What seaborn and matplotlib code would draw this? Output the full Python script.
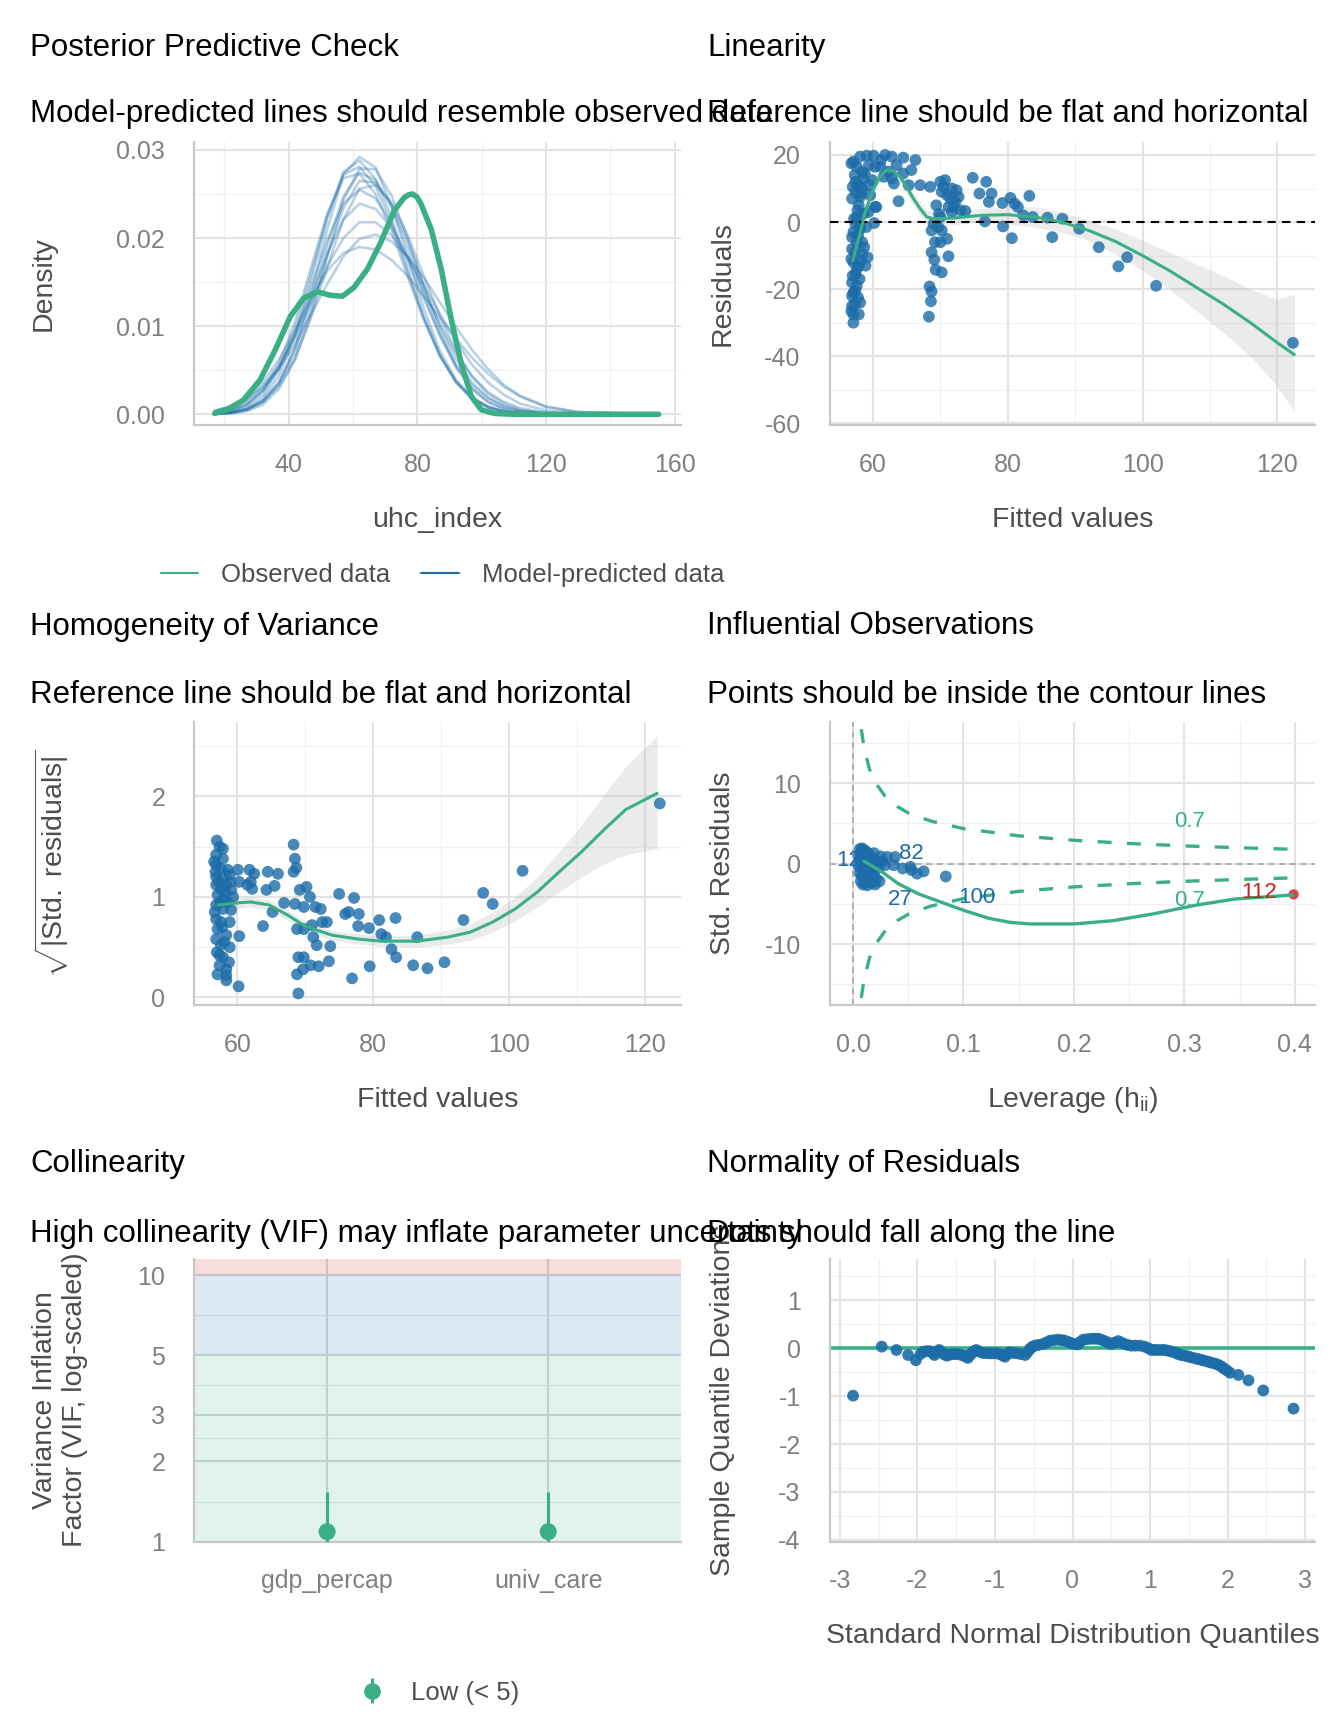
import numpy as np
import pandas as pd
import matplotlib
matplotlib.use("Agg")
import matplotlib.pyplot as plt
import seaborn as sns
from matplotlib.lines import Line2D
from matplotlib.ticker import NullFormatter

# ---------------- data ----------------
dens_x = [17, 22, 27, 32, 37, 42, 47, 52, 57, 62, 67, 72, 77, 82, 87, 92, 97, 102, 107, 112, 120, 130, 155]
pred_a = [.00005, .00019, .0006, .0016, .0037, .0075, .0129, .0192, .0247, .0274, .0266, .0235, .0188, .0136, .0089, .0053, .0029, .0014, .0006, .00025, .00004, 0, 0]
pred_b = [.00005, .0002, .00067, .0018, .0044, .0088, .0152, .0222, .0275, .0288, .0267, .0223, .0166, .0111, .0067, .0036, .0017, .00075, .0003, .0001, 0, 0, 0]
pred_c = [.00005, .00018, .00055, .0014, .0032, .0063, .011, .0167, .0221, .0256, .026, .024, .0203, .0157, .0111, .0072, .0043, .0023, .0012, .0005, .00012, .00002, 0]
pred_d = [.0002, .00056, .0013, .0028, .0053, .009, .0135, .0182, .0221, .0239, .0233, .0212, .0179, .014, .0103, .0069, .0043, .0025, .0014, .0007, .0002, .00003, 0]
pred_e = [.00003, .00012, .00045, .0014, .0035, .0076, .0137, .021, .0272, .0292, .028, .0236, .0178, .012, .0072, .0039, .0019, .0008, .0003, .0001, 0, 0, 0]
pred_f = [.0004, .0009, .0017, .0031, .0052, .008, .0114, .0148, .0179, .0199, .0204, .0196, .0179, .0155, .0127, .0099, .0073, .0051, .0033, .0021, .0009, .00026, 0]
pred_g = [.00012, .0004, .0011, .0027, .0058, .0105, .0167, .0228, .0268, .0273, .025, .0208, .0156, .0107, .0066, .0037, .0019, .0009, .00036, .00014, 0, 0, 0]
pred_h = [.00034, .0008, .0016, .0032, .0055, .0088, .0127, .0168, .02, .0218, .0218, .0203, .0178, .0147, .0114, .0083, .0056, .0036, .0022, .0012, .00044, .0001, 0]
pred_i = [.00015, .00044, .0011, .0026, .0052, .0092, .0144, .0198, .0239, .0255, .0245, .0216, .0175, .0131, .009, .0056, .0033, .0018, .0009, .0004, .00009, 0, 0]
pred_j = [.00003, .0001, .00037, .0011, .0029, .0062, .0114, .018, .0243, .0279, .0278, .0248, .0199, .0144, .0095, .0055, .0029, .0014, .0006, .00023, .00004, 0, 0]
pred_k = [.0004, .0009, .0019, .0036, .0062, .0096, .0132, .0163, .0183, .019, .0187, .0175, .0157, .0134, .011, .0086, .0064, .0046, .0031, .002, .0008, .00026, 0]
pred_l = [.00005, .00018, .00058, .0015, .0035, .0069, .012, .018, .0234, .0265, .0263, .0238, .0196, .0147, .01, .0063, .0036, .0019, .0009, .0004, .00008, .00001, 0]
pred_m = [.0001, .0003, .0009, .0022, .0051, .0097, .016, .0225, .0272, .0281, .0259, .0216, .0161, .0109, .0067, .0037, .0018, .0008, .0003, .0001, 0, 0, 0]
pred_curves = [pred_a, pred_b, pred_c, pred_d, pred_e, pred_f, pred_g, pred_h, pred_i, pred_j, pred_k, pred_l, pred_m]

obs_x = [17, 20.7, 25.9, 31.1, 35.8, 40.5, 44.7, 48.9, 53, 56.7, 60.3, 64.5, 68.6, 72.8, 75.9, 77.2, 78.4, 79.8, 81.1, 84.3, 87.4, 90.5, 93.6, 96.8, 99.9, 104, 110, 155]
obs_y = [0.0001, 0.0005, 0.0016, 0.0039, 0.0073, 0.0111, 0.0132, 0.0139, 0.0135, 0.0134, 0.0144, 0.0165, 0.0195, 0.0231, 0.0246, 0.0249, 0.025, 0.0247, 0.0239, 0.021, 0.0165, 0.0108, 0.0058, 0.002, 0.0005, 0.0001, 0.0, 0.0]

lin_fitted = [57.1, 58.1, 59.1, 60.1, 57.6, 58.4, 59.4, 60.3, 57.4, 57.9, 58.6, 57.4, 58.1, 56.9, 57.9, 58.4, 59.4, 60.3, 57.6, 57.4,
              60.2, 57.1, 58.1, 57.6, 58.4, 56.9, 59.2, 58.4, 57.1, 57.9, 58.9, 57.4, 56.9, 57.6, 57.1, 56.9, 58.1, 56.9, 57.1, 57.9,
              57.1, 56.8, 57.3, 58.8, 57.0, 58.3, 57.7, 58.6, 57.2, 58.0, 56.9, 57.8, 58.7, 57.3, 56.8, 58.2, 57.6, 57.0, 58.0, 57.4,
              57.8, 56.8, 57.3, 59.0, 59.6, 59.9, 59.3,
              61.8, 62.8, 64.5, 66.3, 65.7, 64.5, 62.8, 63.1, 65.3, 63.8, 60.5, 61.6, 61.1, 62.3, 61.2, 63.5,
              67.0, 68.5, 70.0, 70.7, 71.7, 72.4, 70.2, 71.5, 72.2, 72.7, 69.4, 71.2, 71.7, 73.0, 73.7, 70.0, 69.0, 69.7, 70.2, 68.7,
              69.2, 70.0, 71.0, 68.7, 71.2, 69.1, 69.3, 70.2, 68.4, 68.7, 68.6, 68.3, 71.0, 70.5, 72.0, 69.8,
              74.8, 76.8, 75.8, 77.6, 77.2, 79.2, 80.4, 81.0, 81.5, 83.2, 79.3, 80.6, 76.6, 82.3, 83.7, 85.9, 86.6, 88.1, 90.6, 93.5,
              96.4, 97.7, 102.0, 122.3]
lin_resid = [18, 19.5, 19.8, 19.8, 16.5, 15, 17, 16.5, 12, 11, 13, 9, 7.5, 7, 5, 10, 11, 4.5, 1.5, -0.5,
             -0.3, -3, -2, -6, -6, -8, -10.5, -9.5, -12, -13, -13, -15.5, -18, -19, -21, -22, -24, -25, -27.5, -27.5,
             -30, 17.5, 14, 14.5, 10.5, 8.5, 3.5, 2.5, 1, -1, -4.5, -4, -7.5, -9, -11, -11.5, -14, -16, -17, -20.5,
             -22.5, -26.5, -24.5, -1.5, 8, 12.5, 3,
             20, 19.5, 19.2, 18.5, 15.5, 14.5, 13, 11.5, 11, 6.2, 4.5, 13.5, 16.5, 15, 18.5, 17,
             11, 10.5, 12, 12.5, 10, 9.5, 9, 7, 6, 7.5, 5, 4.5, 3, 3.5, 3.3, 1.5, -0.5, -1.5, -2.5, -2.5,
             -6, -6, -5, -9, -10.2, -11.2, -14.2, -15, -19.2, -20.7, -23.6, -28.2, 8, 10.5, 4.5, 2.5,
             13.2, 12, 8.5, 8.5, 6, 5.7, 7.2, 5.5, 4.5, 7.8, -1.3, -4.8, 0.2, 2, 1.5, 1.3, -4.5, 1, -2, -7.5,
             -13.2, -10.5, -19, -36]
lin_smooth_x = [57, 58, 59, 60, 61, 62, 63, 64, 65, 66, 67, 68, 69, 72, 76, 80, 84, 88, 92, 96, 100, 104, 108, 112, 116, 120, 122.5]
lin_smooth_y = [-11.5, -4, 4, 9.5, 13.5, 15.5, 15.3, 13.5, 10.5, 7, 4, 1.5, 1, 1.2, 2, 2.2, 1.5, 0, -2.5, -5.8, -10, -14.5, -19.5, -24.5, -30, -36, -39.5]
lin_smooth_lo = [-15, -7, 1.5, 7.5, 11.5, 13.5, 13, 11.2, 8.3, 5, 2, -0.5, -1, -0.8, 0, -0.5, -1.5, -3, -5.5, -9.5, -14.5, -20, -26.5, -33, -40, -49, -56.5]
lin_smooth_hi = [-8, -1, 6.5, 11.5, 15.5, 17.5, 17.6, 15.8, 12.7, 9, 6, 3.5, 3, 3.2, 4, 4.9, 4.5, 3, 0.5, -2.1, -5.5, -9, -12.5, -16, -20, -23, -21.5]

hom_fitted = [57.0, 57.4, 57.9, 56.9, 57.9, 56.9, 57.6, 58.6, 56.9, 57.9, 58.9, 56.9, 57.6, 58.4, 59.1, 57.1, 58.1, 59.4, 56.9, 57.9,
              59.1, 56.9, 57.6, 58.9, 57.1, 58.4, 56.9, 57.6, 58.9, 57.4, 57.9, 57.4, 58.4, 57.1, 58.4, 58.4, 60.2, 60.3, 60.1,
              56.6, 57.3, 58.2, 56.7, 57.8, 58.6, 57.0, 58.1, 56.8, 59.0, 57.5, 58.8,
              61.8, 62.5, 62.0, 61.5, 62.2, 60.3, 63.8, 64.5, 66.0, 65.5, 64.3, 65.2, 66.9, 68.3, 68.5, 68.7, 68.3, 70.2, 69.2,
              70.7, 68.5, 69.8, 71.5, 72.3, 68.8, 69.8, 71.0, 72.5, 73.2, 71.2, 71.7, 69.0, 69.8, 68.8, 69.7, 70.8, 72.0, 73.5,
              73.7, 69.0, 75.0, 77.2, 75.9, 76.4, 77.9, 77.8, 79.4, 80.9, 81.2, 81.9, 83.3, 82.7, 83.4, 79.5, 76.9,
              85.9, 86.5, 88.0, 90.5, 93.3, 96.2, 97.6, 102.0, 122.2]
hom_sqrt_std = [1.56, 1.5, 1.48, 1.42, 1.38, 1.32, 1.28, 1.27, 1.2, 1.18, 1.22, 1.12, 1.08, 1.12, 1.07, 1.02, 0.98, 1.0, 0.92, 0.88,
                0.87, 0.78, 0.75, 0.75, 0.68, 0.62, 0.58, 0.52, 0.5, 0.42, 0.4, 0.32, 0.28, 0.23, 0.22, 0.17, 0.11, 0.61, 1.27,
                1.35, 1.15, 1.05, 0.85, 0.7, 0.95, 0.45, 0.55, 1.25, 1.15, 0.95, 0.35,
                1.27, 1.23, 1.15, 1.12, 1.08, 1.15, 0.71, 1.25, 1.23, 1.11, 1.07, 0.85, 0.94, 1.52, 1.38, 1.29, 1.25, 1.1, 1.07,
                1.0, 0.93, 0.9, 0.9, 0.88, 0.68, 0.68, 0.72, 0.75, 0.75, 0.6, 0.52, 0.4, 0.4, 0.23, 0.28, 0.32, 0.31, 0.36,
                0.51, 0.04, 1.03, 0.99, 0.83, 0.85, 0.83, 0.71, 0.69, 0.77, 0.63, 0.6, 0.79, 0.48, 0.4, 0.31, 0.19,
                0.32, 0.6, 0.29, 0.35, 0.77, 1.04, 0.93, 1.26, 1.93]
hom_smooth_x = [57.2, 60, 62, 64.7, 67.4, 70, 73.9, 77.9, 81.2, 86.4, 91, 94.3, 97.6, 100.9, 104.2, 107.4, 110.7, 114, 117.2, 121.8]
hom_smooth_y = [0.92, 0.94, 0.95, 0.92, 0.82, 0.71, 0.62, 0.58, 0.56, 0.56, 0.6, 0.65, 0.75, 0.88, 1.05, 1.25, 1.45, 1.67, 1.87, 2.03]
hom_smooth_lo = [0.86, 0.89, 0.9, 0.87, 0.77, 0.66, 0.57, 0.53, 0.51, 0.5, 0.53, 0.57, 0.65, 0.76, 0.9, 1.05, 1.2, 1.33, 1.42, 1.48]
hom_smooth_hi = [0.98, 0.99, 1.0, 0.97, 0.87, 0.76, 0.67, 0.63, 0.61, 0.62, 0.67, 0.73, 0.85, 1.0, 1.2, 1.45, 1.72, 2.02, 2.3, 2.6]

inf_leverage = [0.006, 0.008, 0.010, 0.012, 0.007, 0.009, 0.011, 0.014, 0.016, 0.018, 0.006, 0.008, 0.010, 0.013, 0.015, 0.017, 0.020, 0.022,
                0.007, 0.009, 0.011, 0.013, 0.015, 0.018, 0.006, 0.008, 0.010, 0.012, 0.014, 0.016, 0.019, 0.021, 0.007, 0.009, 0.011,
                0.013, 0.017, 0.020, 0.024, 0.023, 0.025, 0.019, 0.005, 0.005, 0.012, 0.009, 0.016, 0.011, 0.027, 0.029,
                0.031, 0.038, 0.037, 0.045, 0.052, 0.053, 0.058, 0.064, 0.084]
inf_std_resid = [1.8, 1.9, 1.7, 1.5, 1.3, 1.1, 0.9, 1.2, 0.9, 0.6, 0.5, 0.2, 0.0, 0.3, -0.1, 0.2, 0.4, 0.0,
                 -0.4, -0.7, -0.9, -0.6, -1.1, -0.8, -1.2, -1.5, -1.8, -1.4, -2.0, -1.7, -1.3, -1.9, -2.2, -2.6, -2.4,
                 -2.7, -2.4, -2.6, -2.2, -0.5, 0.9, 1.3, 0.9, -0.3, 0.6, 1.6, -0.4, -1.2, 0.3, -0.2,
                 0.83, 0.83, -0.2, -0.6, -0.4, -0.8, -1.25, -0.96, -1.6]
inf_out_leverage = [0.399]
inf_out_resid = [-3.83]
inf_smooth_x = [0.01, 0.027, 0.041, 0.059, 0.08, 0.1, 0.123, 0.142, 0.16, 0.2, 0.235, 0.272, 0.309, 0.346, 0.398]
inf_smooth_y = [0.3, -1.1, -2.5, -3.75, -4.8, -5.8, -6.8, -7.3, -7.5, -7.5, -7.1, -6.25, -5.2, -4.4, -3.9]
cook_h = [0.0075, 0.01, 0.015, 0.02, 0.03, 0.04, 0.05, 0.07, 0.1, 0.15, 0.2, 0.25, 0.3, 0.35, 0.4]
cook_upper = [16.7, 14.4, 11.7, 10.1, 8.2, 7.1, 6.3, 5.3, 4.35, 3.45, 2.9, 2.5, 2.2, 1.97, 1.77]
cook_lower = [-16.7, -14.4, -11.7, -10.1, -8.2, -7.1, -6.3, -5.3, -4.35, -3.45, -2.9, -2.5, -2.2, -1.97, -1.77]
inf_labels = ["12", "82", "27", "100"]
inf_label_x = [-0.0035, 0.053, 0.043, 0.112]
inf_label_y = [0.4, 1.25, -4.4, -4.2]

vif_terms = ["gdp_percap", "univ_care"]
vif_values = [1.09, 1.09]
vif_ci_low = [1.0, 1.0]
vif_ci_high = [1.54, 1.54]

qq_theoretical = [-2.83, -2.46, -2.27, -2.12, -2.02, -1.96, -1.92, -1.88, -1.84, -1.80, -1.78, -1.75, -1.72, -1.68, -1.65, -1.62, -1.58, -1.54,
                  -1.50, -1.45, -1.41, -1.38, -1.35, -1.32, -1.30, -1.27, -1.24, -1.20, -1.15, -1.11, -1.06, -1.02, -0.98, -0.94, -0.90,
                  -0.87, -0.84, -0.81, -0.77, -0.72, -0.67, -0.61, -0.58, -0.55, -0.52, -0.485, -0.44, -0.38, -0.34, -0.29, -0.24,
                  -0.185, -0.14, -0.10, -0.05, -0.013, 0.025, 0.064, 0.10, 0.137, 0.19, 0.245, 0.29, 0.33, 0.37, 0.416, 0.46, 0.50,
                  0.545, 0.59, 0.63, 0.67, 0.71, 0.76, 0.81, 0.87, 0.93, 0.98, 1.02, 1.06, 1.10, 1.15, 1.19, 1.23, 1.27, 1.32, 1.36,
                  1.40, 1.45, 1.49, 1.53, 1.58, 1.62, 1.66, 1.70, 1.75, 1.79, 1.84, 1.88, 1.92, 1.95, 1.99, 2.03, 2.14, 2.27, 2.46, 2.85]
qq_deviation = [-0.99, 0.035, -0.035, -0.14, -0.25, -0.12, -0.07, -0.06, -0.06, -0.10, -0.14, -0.07, -0.035, -0.09, -0.13, -0.155, -0.13, -0.12,
                -0.12, -0.13, -0.15, -0.17, -0.2, -0.14, -0.10, -0.06, -0.035, -0.07, -0.10, -0.10, -0.105, -0.105, -0.105, -0.12, -0.15,
                -0.175, -0.12, -0.085, -0.095, -0.105, -0.12, -0.14, -0.08, -0.015, 0.03, 0.055, 0.07, 0.09, 0.12, 0.16, 0.17,
                0.18, 0.17, 0.16, 0.13, 0.105, 0.09, 0.08, 0.13, 0.18, 0.19, 0.2, 0.2, 0.2, 0.18, 0.15, 0.12, 0.09,
                0.12, 0.15, 0.12, 0.09, 0.07, 0.055, 0.055, 0.055, 0.035, 0.0, -0.035, -0.035, -0.035, -0.035, -0.035, -0.05, -0.065, -0.09, -0.12,
                -0.14, -0.155, -0.17, -0.19, -0.21, -0.225, -0.24, -0.26, -0.28, -0.3, -0.32, -0.345, -0.38, -0.42, -0.46, -0.51, -0.556, -0.67, -0.88, -1.26]

# ---------------- style ----------------
sns.set_theme(style="white")
plt.rcParams['font.family'] = ['Liberation Sans', 'DejaVu Sans']
plt.rcParams['mathtext.fontset'] = 'custom'
plt.rcParams['mathtext.rm'] = 'Liberation Sans'
plt.rcParams['mathtext.it'] = 'Liberation Sans:italic'
plt.rcParams['axes.unicode_minus'] = False

GREEN = "#3aaf85"
BLUE = "#1b6ca8"
RED = "#cd201f"
TICK_C = "#808080"
LAB_C = "#4d4d4d"
TITLE_FS = 22.5
LAB_FS = 20.5
TICK_FS = 18
LEG_FS = 18.5
PT_S = 72
W, H = 1344, 1728

fig = plt.figure(figsize=(W / 100, H / 100), dpi=100)

col_x = [194.4, 829.8]
col_w = [486.5, 485.4]
row_top = [142.2, 722.0, 1258.5]
ax_h = 283.2
text_x = [30, 707.4]
title_y = [47.7, 626.5, 1164.0]
subtitle_y = [114.4, 695.0, 1234.0]


def make_ax(r, c):
    return fig.add_axes([col_x[c] / W, 1 - (row_top[r] + ax_h) / H, col_w[c] / W, ax_h / H])


def style(ax, xlim, ylim, xmaj, xmin, ymaj, ymin, xlab=None, ylab=None):
    ax.set_xlim(xlim)
    ax.set_ylim(ylim)
    ax.set_xticks(xmaj)
    ax.set_xticks(xmin, minor=True)
    ax.set_yticks(ymaj)
    ax.set_yticks(ymin, minor=True)
    if xlab is not None:
        ax.set_xticklabels(xlab)
    if ylab is not None:
        ax.set_yticklabels(ylab)
    ax.xaxis.set_minor_formatter(NullFormatter())
    ax.yaxis.set_minor_formatter(NullFormatter())
    ax.grid(True, which='major', color='#e3e3e3', lw=1.5)
    ax.grid(True, which='minor', color='#f0f0f0', lw=0.9)
    ax.set_axisbelow(True)
    for s in ['top', 'right']:
        ax.spines[s].set_visible(False)
    for s in ['left', 'bottom']:
        ax.spines[s].set_color('#c8c8c8')
        ax.spines[s].set_linewidth(1.6)
    ax.tick_params(axis='x', which='both', length=0, pad=20, labelsize=TICK_FS, labelcolor=TICK_C)
    ax.tick_params(axis='y', which='both', length=0, pad=21, labelsize=TICK_FS, labelcolor=TICK_C)
    ax.set_facecolor('white')


def labels(ax, xl, yl, ylx):
    ax.set_xlabel(xl, fontsize=LAB_FS, color=LAB_C, va='center')
    ax.xaxis.set_label_coords(0.5, -0.333)
    ax.set_ylabel(yl, fontsize=LAB_FS, color=LAB_C, va='center', ha='center')
    ax.yaxis.set_label_coords(ylx, 0.5)


def titles(c, r, title, subtitle):
    tx = text_x[c]
    fig.text(tx / W, 1 - title_y[r] / H, title, fontsize=TITLE_FS, color='black', ha='left', va='center')
    fig.text(tx / W, 1 - subtitle_y[r] / H, subtitle, fontsize=TITLE_FS, color='black', ha='left', va='center')


# ---------------- Panel 1: PPC ----------------
ax1 = make_ax(0, 0)
rows = []
for k, curve in enumerate(pred_curves):
    for xv, yv in zip(dens_x, curve):
        rows.append({"x": xv, "density": yv, "sim": k})
pred_df = pd.DataFrame(rows)
sns.lineplot(data=pred_df, x="x", y="density", units="sim", estimator=None, color=BLUE,
             alpha=0.3, lw=1.9, ax=ax1, legend=False)
obs_df = pd.DataFrame({"x": obs_x, "density": obs_y})
sns.lineplot(data=obs_df, x="x", y="density", color=GREEN, lw=4.0, ax=ax1, legend=False)
style(ax1, (10.7, 161.9), (-0.00126, 0.03088), [40, 80, 120, 160], [20, 60, 100, 140],
      [0, 0.01, 0.02, 0.03], [0.005, 0.015, 0.025], ylab=["0.00", "0.01", "0.02", "0.03"])
labels(ax1, "uhc_index", "Density", -0.31)
handles = [Line2D([0], [0], color=GREEN, lw=1.5), Line2D([0], [0], color=BLUE, lw=1.5)]
leg = ax1.legend(handles, ["Observed data", "Model-predicted data"], loc='center', bbox_to_anchor=(0.51, -0.527),
                 ncol=2, frameon=False, fontsize=LEG_FS, handlelength=1.45, handletextpad=0.9, columnspacing=1.2,
                 labelcolor=LAB_C)
titles(0, 0, "Posterior Predictive Check", "Model-predicted lines should resemble observed data")

# ---------------- Panel 2: Linearity ----------------
ax2 = make_ax(0, 1)
ax2.fill_between(lin_smooth_x, lin_smooth_lo, lin_smooth_hi, color='#bdbdbd', alpha=0.3, lw=0, zorder=1)
sns.scatterplot(x=lin_fitted, y=lin_resid, color=BLUE, alpha=0.8, s=PT_S, edgecolor='none', ax=ax2, zorder=2)
ax2.axhline(0, color='black', lw=1.5, ls=(0, (4, 3)), zorder=3)
sns.lineplot(x=lin_smooth_x, y=lin_smooth_y, color=GREEN, lw=2.2, ax=ax2, zorder=4)
style(ax2, (53.6, 125.6), (-60.6, 23.8), [60, 80, 100, 120], [70, 90, 110],
      [-60, -40, -20, 0, 20], [-50, -30, -10, 10])
labels(ax2, "Fitted values", "Residuals", -0.22)
titles(1, 0, "Linearity", "Reference line should be flat and horizontal")

# ---------------- Panel 3: Homogeneity ----------------
ax3 = make_ax(1, 0)
ax3.fill_between(hom_smooth_x, hom_smooth_lo, hom_smooth_hi, color='#bdbdbd', alpha=0.3, lw=0, zorder=1)
sns.scatterplot(x=hom_fitted, y=hom_sqrt_std, color=BLUE, alpha=0.8, s=PT_S, edgecolor='none', ax=ax3, zorder=2)
sns.lineplot(x=hom_smooth_x, y=hom_smooth_y, color=GREEN, lw=2.2, ax=ax3, zorder=4)
style(ax3, (53.7, 125.3), (-0.077, 2.74), [60, 80, 100, 120], [70, 90, 110],
      [0, 1, 2], [0.5, 1.5, 2.5])
labels(ax3, "Fitted values", r"$\sqrt{|\mathrm{Std.\ residuals}|}$", -0.294)
titles(0, 1, "Homogeneity of Variance", "Reference line should be flat and horizontal")

# ---------------- Panel 4: Influential ----------------
ax4 = make_ax(1, 1)
ax4.axhline(0, color='#a0a0a0', lw=1.1, ls=(0, (4, 3)), zorder=1)
ax4.axvline(0, color='#a0a0a0', lw=1.1, ls=(0, (4, 3)), zorder=1)
sns.lineplot(x=cook_h, y=cook_upper, color=GREEN, lw=2.4, ax=ax4, zorder=2)
sns.lineplot(x=cook_h, y=cook_lower, color=GREEN, lw=2.4, ax=ax4, zorder=2)
for ln in ax4.get_lines()[-2:]:
    ln.set_dashes((4.2, 4.6))
sns.scatterplot(x=inf_leverage, y=inf_std_resid, color=BLUE, alpha=0.8, s=PT_S, edgecolor='none', ax=ax4, zorder=3)
sns.scatterplot(x=inf_out_leverage, y=inf_out_resid, color=RED, alpha=0.8, s=55, edgecolor='none', ax=ax4, zorder=3)
sns.lineplot(x=inf_smooth_x, y=inf_smooth_y, color=GREEN, lw=2.4, ax=ax4, zorder=4)
for t, xv, yv in zip(inf_labels, inf_label_x, inf_label_y):
    ax4.text(xv, yv, t, color=BLUE, fontsize=16, ha='center', va='center', zorder=5)
ax4.text(0.368, -3.6, "112", color=RED, fontsize=16, ha='center', va='center', zorder=5)
ax4.text(0.305, 5.2, "0.7", color=GREEN, fontsize=16, ha='center', va='center', zorder=5)
ax4.text(0.305, -4.6, "0.7", color=GREEN, fontsize=16, ha='center', va='center', zorder=5)
style(ax4, (-0.021, 0.4185), (-17.6, 17.6), [0, 0.1, 0.2, 0.3, 0.4], [0.05, 0.15, 0.25, 0.35],
      [-10, 0, 10], [-15, -5, 5, 15], xlab=["0.0", "0.1", "0.2", "0.3", "0.4"])
labels(ax4, r"Leverage ($\mathrm{h_{ii}}$)", "Std. Residuals", -0.22)
titles(1, 1, "Influential Observations", "Points should be inside the contour lines")

# ---------------- Panel 5: Collinearity ----------------
ax5 = make_ax(2, 0)
ax5.set_yscale('log')
ax5.axhspan(1, 5, color=GREEN, alpha=0.15, lw=0, zorder=1)
ax5.axhspan(5, 10, color=BLUE, alpha=0.15, lw=0, zorder=1)
ax5.axhspan(10, 11.55, color=RED, alpha=0.15, lw=0, zorder=1)
xpos = list(range(len(vif_terms)))
yerr = [[v - lo for v, lo in zip(vif_values, vif_ci_low)], [hi - v for v, hi in zip(vif_values, vif_ci_high)]]
eb = ax5.errorbar(xpos, vif_values, yerr=yerr, fmt='none', ecolor=GREEN, elinewidth=2.2, capsize=0, zorder=3)
sns.scatterplot(x=xpos, y=vif_values, color=GREEN, s=150, edgecolor='none', ax=ax5, zorder=4)
style(ax5, (-0.6, 1.6), (1.0, 11.55), xpos, [], [1, 2, 3, 5, 10], [1.414, 2.449, 3.873, 7.071],
      xlab=vif_terms, ylab=["1", "2", "3", "5", "10"])
ax5.grid(True, which='major', color='#d5d9dc', lw=1.5)
ax5.grid(True, which='minor', color='#e4e8ea', lw=0.9)
labels(ax5, "", "Variance Inflation\nFactor (VIF, log-scaled)", -0.276)
ax5.set_xlabel("")
vif_handle = ax5.errorbar([], [], yerr=[], fmt='o', color=GREEN, ecolor=GREEN, elinewidth=2.2, markersize=11)
ax5.legend([vif_handle], ["Low (< 5)"], loc='center', bbox_to_anchor=(0.5, -0.533), frameon=False,
           fontsize=LEG_FS, labelcolor=LAB_C, handlelength=1.2, handletextpad=0.9)
titles(0, 2, "Collinearity", "High collinearity (VIF) may inflate parameter uncertainty")

# ---------------- Panel 6: Normality ----------------
ax6 = make_ax(2, 1)
ax6.axhline(0, color=GREEN, lw=2.6, zorder=2)
sns.scatterplot(x=qq_theoretical, y=qq_deviation, color=BLUE, alpha=0.9, s=PT_S, edgecolor='none', ax=ax6, zorder=3)
style(ax6, (-3.13, 3.13), (-4.04, 1.876), [-3, -2, -1, 0, 1, 2, 3], [-2.5, -1.5, -0.5, 0.5, 1.5, 2.5],
      [-4, -3, -2, -1, 0, 1], [-3.5, -2.5, -1.5, -0.5, 0.5, 1.5])
labels(ax6, "Standard Normal Distribution Quantiles", "Sample Quantile Deviations", -0.22)
titles(1, 2, "Normality of Residuals", "Dots should fall along the line")

fig.savefig("out.png", dpi=100)
